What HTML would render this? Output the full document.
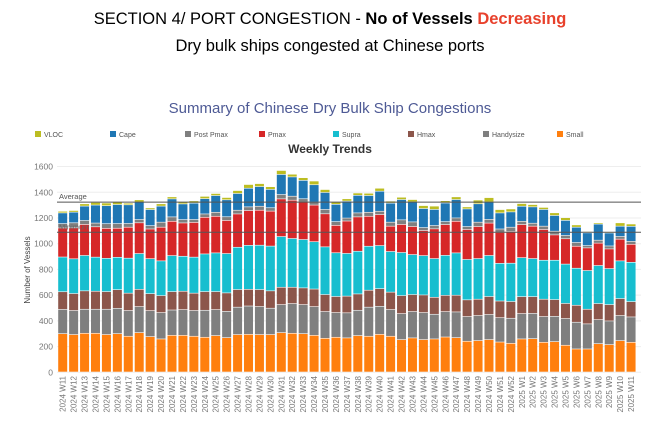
<!DOCTYPE html>
<html><head><meta charset="utf-8">
<style>
body{margin:0;background:#fff;width:660px;height:431px;overflow:hidden;font-family:"Liberation Sans",sans-serif;}
.h1{position:absolute;top:10px;left:0;width:660px;text-align:center;font-size:16.5px;color:#000;}
.h2{position:absolute;top:37px;left:0;width:660px;text-align:center;font-size:16.5px;color:#000;}
</style></head><body>
<div class="h1">SECTION 4/ PORT CONGESTION - <b>No of Vessels</b> <b style="color:#e8412c">Decreasing</b></div>
<div class="h2">Dry bulk ships congested at Chinese ports</div>
<svg id="chart" width="660" height="431" style="position:absolute;left:0;top:0" xmlns="http://www.w3.org/2000/svg"></svg>
<script>
const weeks = [];
for (let i = 11; i <= 52; i++) weeks.push('2024 W' + i);
for (let i = 1; i <= 11; i++) weeks.push('2025 W' + i);
const seriesNames = ['Small','Handysize','Hmax','Supra','Pmax','Post Pmax','Cape','VLOC'];
const small = [298,291,301,301,291,298,278,306,275,257,285,285,278,270,283,267,291,293,291,291,306,301,298,285,262,270,265,283,278,293,278,252,265,252,257,272,267,239,244,252,233,223,257,259,231,236,208,179,179,220,213,244,231];
const handysize = [189,187,187,187,197,197,200,202,202,205,197,200,200,210,202,205,213,220,218,205,218,231,226,223,208,192,195,197,226,218,208,202,205,210,192,197,200,192,195,195,189,195,197,197,200,197,208,208,195,187,184,195,197];
const hmax = [137,132,143,140,137,145,135,135,132,132,143,143,135,145,140,143,137,130,132,135,135,127,130,137,132,125,130,127,132,137,135,140,132,137,132,127,130,130,127,140,130,130,132,130,135,130,117,132,114,125,127,132,119];
const supra = [270,270,275,265,259,252,272,278,272,270,280,272,280,293,301,306,329,342,345,348,394,379,376,368,371,340,332,332,342,335,316,335,311,306,301,311,329,314,316,319,293,298,303,296,303,306,306,288,301,296,280,293,306];
const pmax = [226,241,241,236,233,226,241,239,231,262,267,259,270,285,285,257,259,270,272,272,293,298,291,285,257,213,252,267,233,241,197,218,218,195,231,239,246,233,249,252,241,246,257,252,239,197,197,171,176,174,153,169,140];
const postPmax = [34,39,31,29,36,36,29,26,26,39,34,26,23,26,31,29,29,29,31,26,34,31,26,23,34,29,23,31,31,26,31,36,36,23,26,23,26,23,34,29,26,34,26,23,26,29,26,29,18,23,23,21,23];
const cape = [83,83,112,140,140,148,145,135,125,125,140,122,127,119,130,132,130,145,153,143,156,150,143,135,132,135,132,137,130,156,148,158,156,148,125,145,143,137,143,135,125,119,117,127,130,122,117,119,99,125,101,80,117];
const vloc = [13,13,18,21,21,21,13,18,13,18,16,16,18,18,16,18,23,29,23,21,31,21,21,29,23,18,18,18,18,23,16,18,18,23,26,18,21,16,29,34,26,23,21,18,16,21,21,18,10,10,10,26,18];
const yTicks = [0,200,400,600,800,1000,1200,1400,1600];
const averageValue = 1323;
const minimumValue = 1089;

const colors = ['#ff7f0e','#7f7f7f','#8c564b','#17becf','#d62728','#7f7f7f','#1f77b4','#bcbd22'];
const series = [small,handysize,hmax,supra,pmax,postPmax,cape,vloc];
const svg = document.getElementById('chart');
const NS = 'http://www.w3.org/2000/svg';
const plotL = 57, plotR = 641, y0 = 372.3, pxPer = 0.1286;
const pitch = 10.93, firstC = 62.7, bw = 9;
function yScale(v){ return y0 - v*pxPer; }
function xScale(i){ return firstC + i*pitch; }
function mk(tag, attrs, text){
  const e = document.createElementNS(NS, tag);
  for (const k in attrs) e.setAttribute(k, attrs[k]);
  if (text !== undefined) e.textContent = text;
  svg.appendChild(e); return e;
}
let t = mk('text',{x:330,y:113,'text-anchor':'middle','font-size':'15','fill':'#4e5a95','font-family':'Liberation Sans, sans-serif'},'Summary of Chinese Dry Bulk Ship Congestions');


t = mk('text',{x:330,y:153,'text-anchor':'middle','font-size':'12','font-weight':'bold','fill':'#333','font-family':'Liberation Sans, sans-serif'},'Weekly Trends');


const legendNames = ['VLOC','Cape','Post Pmax','Pmax','Supra','Hmax','Handysize','Small'];
const legendColors = ['#bcbd22','#1f77b4','#7f7f7f','#d62728','#17becf','#8c564b','#7f7f7f','#ff7f0e'];
const legendX = [35,110,185,259,333,408,483,557];
legendNames.forEach((n,i)=>{
  const r = mk('rect',{x:legendX[i],y:131,width:6,height:6,fill:legendColors[i]});
  
  
  const tx = mk('text',{x:legendX[i]+9,y:137,'font-size':'7','fill':'#555','font-family':'Liberation Sans, sans-serif'},n);
  
  
});
yTicks.forEach(v=>{
  const y = yScale(v);
  const g = mk('line',{x1:plotL,x2:plotR,y1:y,y2:y,stroke:'#eee','stroke-width':1});
  
  
  const tl = mk('text',{x:53,y:y+3,'text-anchor':'end','font-size':'8.5','fill':'#777','font-family':'Liberation Sans, sans-serif'},String(v));
  
  
});
const yt = mk('text',{x:0,y:0,transform:'translate(30,270) rotate(-90)','text-anchor':'middle','font-size':'8','fill':'#444','font-family':'Liberation Sans, sans-serif'},'Number of Vessels');


weeks.forEach((w,i)=>{
  let cum = 0;
  series.forEach((s,k)=>{
    const v = s[i];
    const top = yScale(cum+v), bot = yScale(cum);
    const r = mk('rect',{x:xScale(i)-bw/2,y:top,width:bw,height:Math.max(0,bot-top-0.6),fill:colors[k]});
    
    
    cum += v;
  });
  const lx = xScale(i)+3, ly = 376;
  const l = mk('text',{x:0,y:0,transform:'translate('+lx+','+ly+') rotate(-90)','text-anchor':'end','font-size':'8','fill':'#777','font-family':'Liberation Sans, sans-serif'},w);
  
  
});
const ay = yScale(averageValue), my = yScale(minimumValue);
let ln = mk('line',{x1:plotL,x2:plotR,y1:ay,y2:ay,stroke:'#555','stroke-width':1});


ln = mk('line',{x1:plotL,x2:plotR,y1:my,y2:my,stroke:'#555','stroke-width':1});


t = mk('text',{x:59,y:ay-3,'font-size':'7.5','fill':'#555','font-family':'Liberation Sans, sans-serif'},'Average');


t = mk('text',{x:59,y:my-3,'font-size':'7.5','fill':'#666','font-family':'Liberation Sans, sans-serif'},'Minimum');


</script>
</body></html>
